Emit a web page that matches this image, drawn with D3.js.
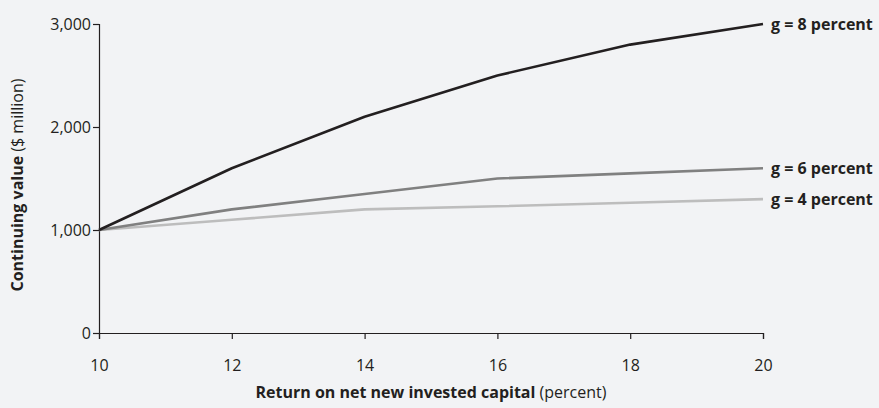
<!DOCTYPE html>
<html><head><meta charset="utf-8">
<script src="https://cdn.jsdelivr.net/npm/d3@7"></script>
<style>
html,body{margin:0;padding:0;background:#f2f3f5;}
svg{display:block;font-family:"Open Sans",sans-serif;}
</style></head>
<body>
<svg id="chart" width="879" height="408"></svg>
<script>
const xValues = [10, 12, 14, 16, 18, 20];
const g8 = [1000, 1600, 2100, 2500, 2800, 3000];
const g6 = [1000, 1200, 1350, 1500, 1550, 1600];
const g4 = [1000, 1100, 1200, 1230, 1265, 1300];
const seriesNames = ["g = 8 percent", "g = 6 percent", "g = 4 percent"];
const seriesColors = ["#231f20", "#808080", "#bdbdbd"];
const yTicks = [0, 1000, 2000, 3000];

const svg = d3.select("#chart");
const x = d3.scaleLinear().domain([10, 20]).range([99, 763]);
const y = d3.scaleLinear().domain([0, 3000]).range([333, 24]);

const xAxis = svg.append("g").attr("transform", "translate(0,333)")
  .call(d3.axisBottom(x).tickValues(xValues).tickSize(6).tickPadding(21).tickFormat(d3.format("d")));
const yAxis = svg.append("g").attr("transform", "translate(99,0)")
  .call(d3.axisLeft(y).tickValues(yTicks).tickSize(6).tickPadding(2).tickFormat(d3.format(",")));
[xAxis, yAxis].forEach(a => {
  a.select(".domain").attr("stroke", "#231f20").attr("stroke-width", 1.2);
  a.selectAll(".tick line").attr("stroke", "#231f20").attr("stroke-width", 1.2);
  a.selectAll(".tick text").attr("fill", "#231f20").style("font-size", "16px")
    .style("font-family", '"Open Sans",sans-serif');
});

const data = [g8, g6, g4];
const line = d3.line().x((d, i) => x(xValues[i])).y(d => y(d));
data.slice().reverse().forEach((s, ri) => {
  const i = data.length - 1 - ri;
  svg.append("path").datum(s).attr("d", line).attr("fill", "none")
    .attr("stroke", seriesColors[i]).attr("stroke-width", 2.6).attr("stroke-linejoin", "round");
});
data.forEach((s, i) => {
  svg.append("text").attr("x", 771).attr("y", y(s[s.length - 1])).attr("dy", "0.35em")
    .attr("fill", "#231f20").style("font-size", "16px").style("font-weight", "bold")
    .text(seriesNames[i]);
});

const xt = svg.append("text").attr("x", 431).attr("y", 398).attr("text-anchor", "middle")
  .attr("fill", "#231f20").style("font-size", "16px");
xt.append("tspan").style("font-weight", "bold").text("Return on net new invested capital");
xt.append("tspan").text(" (percent)");

const yt = svg.append("text").attr("transform", "translate(23,185) rotate(-90)").attr("text-anchor", "middle")
  .attr("fill", "#231f20").style("font-size", "16px");
yt.append("tspan").style("font-weight", "bold").text("Continuing value");
yt.append("tspan").text(" ($ million)");
</script>
</body></html>
